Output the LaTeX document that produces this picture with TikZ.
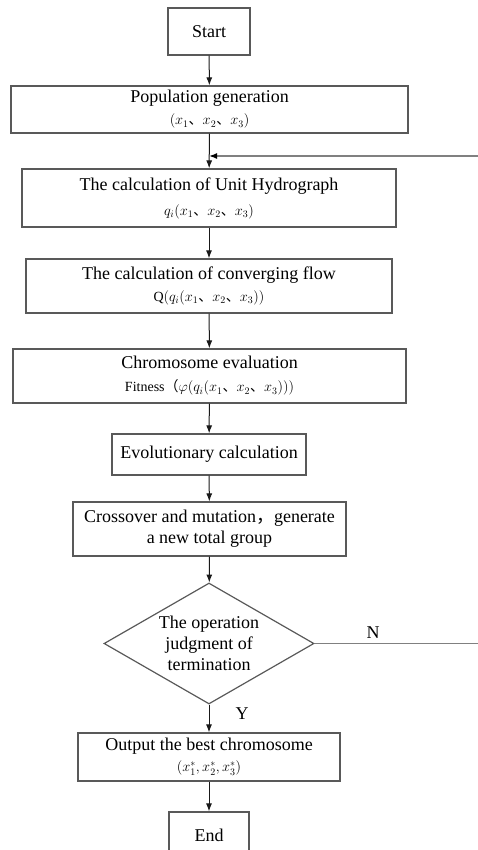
\documentclass[tikz,border=0pt]{standalone}
\usepackage{fontspec}
\setmainfont{Liberation Serif}
\newfontfamily\cjk{Noto Sans CJK SC}
\usetikzlibrary{arrows.meta,shapes.geometric,positioning}

% small second line inside a box, and the Chinese list comma
\newcommand{\subl}{\fontsize{14}{16}\selectfont}
\newcommand{\dun}{{\cjk 、}}

\tikzset{
  box/.style={draw=black!65, line width=1.2pt, rectangle, align=center,
    inner sep=0pt, font=\fontsize{18}{21}\selectfont},
  decision/.style={draw=black!65, line width=1.2pt, diamond, aspect=1.74,
    inner sep=0pt, align=center, font=\fontsize{18}{21}\selectfont},
  flow/.style={draw=black!90, line width=1pt, -{Latex[length=8pt,width=6pt]}},
  loopline/.style={draw=black!50, line width=1.5pt, -{Latex[length=8pt,width=6pt,color=black]}},
  tag/.style={font=\fontsize{18}{21}\selectfont}
}

\begin{document}
\begin{tikzpicture}[x=1pt,y=-1pt]
			\useasboundingbox (0,0) rectangle (477,850);
			
			% Boxes
			\node[box, minimum width=82, minimum height=47] (start) at (209,31.5) {Start};
			\node[box, minimum width=397, minimum height=47] (pop) at (209.5,109.5)
				{Population generation\\[1pt]{\subl $(x_1$\dun$x_2$\dun$x_3)$}};
			\node[box, minimum width=374, minimum height=58] (unit) at (209,198)
				{The calculation of Unit Hydrograph\\[4pt]{\subl $q_i(x_1$\dun$x_2$\dun$x_3)$}};
			\node[box, minimum width=366, minimum height=54] (conv) at (209,286)
				{The calculation of converging flow\\[1pt]{\subl Q$(q_i(x_1$\dun$x_2$\dun$x_3))$}};
			\node[box, minimum width=393, minimum height=54] (eval) at (209.5,376)
				{Chromosome evaluation\\[2pt]{\subl Fitness{\cjk （}$\varphi(q_i(x_1$\dun$x_2$\dun$x_3)))$}};
			\node[box, minimum width=194, minimum height=41] (evol) at (209,454.5) {Evolutionary calculation};
			\node[box, minimum width=273, minimum height=54] (cross) at (209.5,529)
				{Crossover and mutation{\cjk ，}generate\\a new total group};
			
			% Decision
			\node[decision, minimum width=210, minimum height=121] (judge) at (209,643.5)
				{The operation\\judgment of\\termination};
			
			\node[box, minimum width=262, minimum height=48] (out) at (209,757)
				{Output the best chromosome\\[0pt]{\subl $(x_1^*,x_2^*,x_3^*)$}};
			\node[box, minimum width=80, minimum height=47] (end) at (209,835.5) {End};
			
			% Connectors
			\coordinate (loop) at (209,156);
			\draw[flow] (start) -- (pop);
			\draw[flow] (pop) -- (unit);
			\draw[flow] (unit) -- (conv);
			\draw[flow] (conv) -- (eval);
			\draw[flow] (eval) -- (evol);
			\draw[flow] (evol) -- (cross);
			\draw[flow] (cross) -- (judge);
			\draw[flow] (judge) -- (out);
			\draw[flow] (out) -- (end);
			\draw[loopline] (judge.east) -- ++(180,0) |- (loop);
			
			% Labels
			\node[tag] (no) at (373,633) {N};
			\node[tag] (yes) at (242,714) {Y};
		\end{tikzpicture}
\end{document}
